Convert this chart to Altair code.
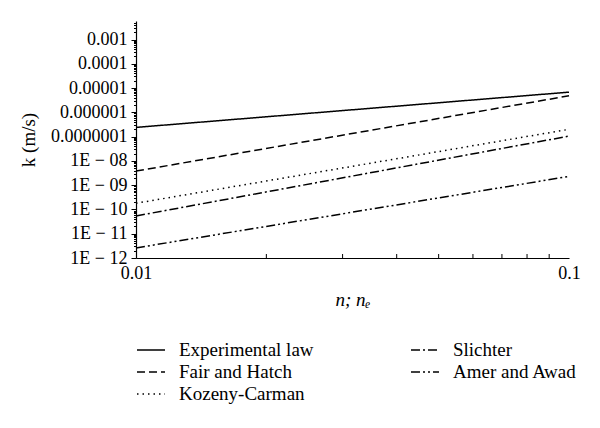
import altair as alt
import pandas as pd

# ---- data ----
series = ["Experimental law", "Fair and Hatch", "Kozeny-Carman", "Slichter", "Amer and Awad"]
n_values = [0.01, 0.1]
k_at_n001 = [2.4e-7, 3.8e-9, 1.8e-10, 5.4e-11, 2.6e-12]
k_at_n01 = [6.8e-6, 4.8e-6, 2.0e-7, 1.05e-7, 2.3e-9]

dash_styles = {
    "Experimental law": [1, 0],
    "Fair and Hatch": [8, 4],
    "Kozeny-Carman": [1.5, 4],
    "Slichter": [9, 3, 2, 3],
    "Amer and Awad": [9, 3, 2, 3, 2, 3],
}

x_tick_labels = [0.01, 0.1]
x_minor_ticks = [0.02, 0.03, 0.04, 0.05, 0.06, 0.07, 0.08, 0.09]
y_decades = [-12, -11, -10, -9, -8, -7, -6, -5, -4, -3]
y_tick_labels = ["1E − 12", "1E − 11", "1E − 10", "1E − 09", "1E − 08",
                 "0.0000001", "0.000001", "0.00001", "0.0001", "0.001"]
y_domain = [1e-12, 0.0058]

# ---- tables ----
rows = []
for s, a, b in zip(series, k_at_n001, k_at_n01):
    rows.append({"series": s, "n": n_values[0], "k": a})
    rows.append({"series": s, "n": n_values[1], "k": b})
df = pd.DataFrame(rows)

y_ticks = [m * 10.0 ** e for e in y_decades for m in range(1, 10) if m * 10.0 ** e <= y_domain[1]]
minor_df = pd.DataFrame({"n": x_minor_ticks})

label_map = "{" + ",".join("'%d':'%s'" % (e, l) for e, l in zip(y_decades, y_tick_labels)) + "}"
lg = "log(datum.value)/LN10"
is_major = "abs(%s - round(%s)) < 0.01" % (lg, lg)
y_label_expr = "%s ? %s['' + round(%s)] : ''" % (is_major, label_map, lg)

FONT = "Liberation Serif"
W, H = 433, 237

x_scale = alt.Scale(type="log", domain=[0.01, 0.1], nice=False)
y_scale = alt.Scale(type="log", domain=y_domain, nice=False)

lines = alt.Chart(df).mark_line(color="black", strokeWidth=1.5).encode(
    x=alt.X("n:Q", scale=x_scale,
            axis=alt.Axis(title="n; nₑ", values=x_tick_labels, format="~g", ticks=False,
                          labelFont=FONT, labelFontSize=18, labelColor="black", labelPadding=6,
                          titleFont=FONT, titleFontSize=19, titleFontStyle="italic",
                          titleFontWeight="normal", titleColor="black", titlePadding=8,
                          domainColor="black", domainWidth=1.2, grid=False,
                          labelFlush=False)),
    y=alt.Y("k:Q", scale=y_scale,
            axis=alt.Axis(title="k (m/s)", values=y_ticks, labelExpr=y_label_expr,
                          tickSize={"condition": {"test": is_major, "value": 5}, "value": 2.5},
                          tickColor="black", tickWidth=1, domainColor="black", domainWidth=1.2,
                          labelFont=FONT, labelFontSize=18, labelColor="black", labelPadding=4,
                          titleFont=FONT, titleFontSize=19, titleFontWeight="normal",
                          titleColor="black", titlePadding=12, grid=False, labelOverlap=False,
                          labelFlush=False)),
    strokeDash=alt.StrokeDash(
        "series:N",
        scale=alt.Scale(domain=series, range=[dash_styles[s] for s in series]),
        legend=alt.Legend(title=None, orient="none", legendX=0, legendY=318, columns=2,
                          symbolType="stroke", symbolSize=784, symbolStrokeWidth=1.5,
                          symbolStrokeColor="black", labelFont=FONT, labelFontSize=19,
                          labelColor="black", labelOffset=13, clipHeight=22, rowPadding=0,
                          columnPadding=96),
    ),
)

ticks = alt.Chart(minor_df).mark_rule(color="black", strokeWidth=1).encode(
    x=alt.X("n:Q", scale=x_scale),
    y=alt.value(H),
    y2=alt.value(H - 4),
)

chart = alt.layer(lines, ticks).properties(
    width=W, height=H,
    padding={"left": 11, "top": 5, "right": 5, "bottom": 5},
).configure_view(stroke=None)

chart.save("out.html", embed_options={"renderer": "svg", "actions": False})
